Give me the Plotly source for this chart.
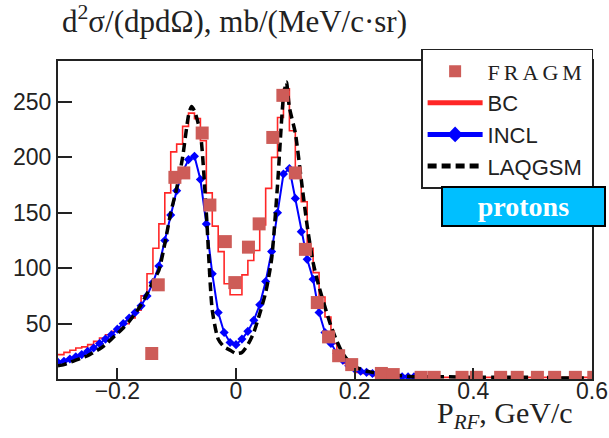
import plotly.graph_objects as go

# ---------------- data ----------------
fragm_x = [-0.142, -0.131, -0.103, -0.088, -0.057, -0.044, -0.018, -0.002, 0.021, 0.039,
           0.062, 0.079, 0.100, 0.117, 0.137, 0.156, 0.173, 0.195, 0.245, 0.265,
           0.312, 0.334, 0.381, 0.405, 0.446, 0.474, 0.508, 0.537, 0.572, 0.603]
fragm_y = [23, 85, 182, 186, 222, 157, 124, 87, 119, 140,
           218, 256, 186, 117, 69, 38, 21, 13, 5, 4,
           1.5, 1.5, 1.5, 1.5, 1.5, 1.5, 1.5, 1.5, 1.5, 1.5]

bc_edges = [round(-0.30 + 0.01 * i, 2) for i in range(91)]
bc_vals = [22, 24, 26, 28, 29, 31, 34, 37, 40, 43,
           46, 50, 55, 62, 75, 95, 118, 140, 168, 205,
           212, 228, 240, 235, 215, 168, 138, 115, 86, 76,
           76, 94, 107, 116, 139, 172, 200, 236, 262, 224,
           182, 160, 118, 96, 74, 56, 32, 22, 14, 9,
           6, 5, 4, 3, 3, 2, 2, 2, 2, 2,
           2, 1.5, 1.5, 1.5, 1.5, 1.5, 1.5, 1.5, 1.5, 1.5,
           1.5, 1.5, 1.5, 1.5, 1.5, 1.5, 1.5, 1.5, 1.5, 1.5,
           1.5, 1.5, 1.5, 1.5, 1.5, 1.5, 1.5, 1.5, 1.5, 1.5]

incl_x = [round(-0.30 + 0.01 * i, 2) for i in range(61)]
incl_y = [15, 16, 18, 20, 22, 25, 28, 32, 36, 40,
          45, 50, 55, 60, 66, 75, 87, 102, 125, 148,
          170, 187, 198, 201, 180, 140, 95, 60, 42, 33,
          31, 36, 43, 53, 67, 88, 115, 150, 185, 190,
          163, 133, 108, 90, 60, 42, 32, 23, 17, 12,
          9, 7, 6, 5, 4, 4, 3, 3, 2, 2, 2]

laq_x = [-0.30, -0.29, -0.28, -0.27, -0.26, -0.25, -0.24, -0.23, -0.22, -0.21,
         -0.20, -0.19, -0.18, -0.17, -0.16, -0.15, -0.14, -0.13, -0.12, -0.11,
         -0.10, -0.09, -0.08, -0.075, -0.07, -0.06, -0.05, -0.04, -0.03, -0.02,
         -0.01, 0.00, 0.01, 0.02, 0.03, 0.04, 0.05, 0.06, 0.07, 0.08,
         0.085, 0.09, 0.10, 0.11, 0.12, 0.13, 0.14, 0.15, 0.16, 0.17,
         0.18, 0.19, 0.20, 0.21, 0.22, 0.23, 0.24, 0.26, 0.28, 0.30,
         0.35, 0.40, 0.45, 0.50, 0.55, 0.60]
laq_y = [12, 13, 15, 17, 19, 21, 24, 27, 31, 36,
         41, 46, 52, 59, 67, 77, 88, 98, 122, 150,
         172, 200, 238, 246, 242, 222, 150, 62, 36, 29,
         26, 23, 24, 31, 42, 59, 78, 108, 175, 255,
         268, 245, 222, 180, 138, 105, 83, 65, 48, 34,
         23, 16, 11, 9, 7, 6, 5, 4, 3, 2,
         2, 1.5, 1.5, 1.5, 1, 1]

xtick_vals = [-0.2, 0, 0.2, 0.4, 0.6]
xtick_text = ["\u22120.2", "0", "0.2", "0.4", "0.6"]
ytick_vals = [50, 100, 150, 200, 250]

# ---------------- figure ----------------
fig = go.Figure()

fig.add_trace(go.Scatter(
    x=bc_edges, y=bc_vals + [bc_vals[-1]], mode="lines", name="BC",
    line=dict(color="rgba(255,0,0,0.85)", width=1.6, shape="hv"),
    legendgroup="b", legendrank=2))

fig.add_trace(go.Scatter(
    x=incl_x, y=incl_y, mode="lines+markers", name="INCL",
    line=dict(color="#0000ff", width=2),
    marker=dict(symbol="diamond", size=7, color="#0000ff"),
    legendgroup="c", legendrank=3))

fig.add_trace(go.Scatter(
    x=laq_x, y=laq_y, mode="lines", name="LAQGSM",
    line=dict(color="black", width=3.5, dash="9px,5px", shape="spline", smoothing=0.6),
    legendgroup="d", legendrank=4))

fig.add_trace(go.Scatter(
    x=fragm_x, y=fragm_y, mode="markers",
    name="<span style='font-family:\"Liberation Serif\";letter-spacing:4px'>FRAGM</span>",
    marker=dict(symbol="square", size=13, color="rgb(205,92,88)"),
    legendgroup="a", legendrank=1))

axis_common = dict(showline=True, linecolor="#222", linewidth=2, mirror=True,
                   ticks="inside", tickcolor="#222", tickwidth=2,
                   showgrid=False, zeroline=False, automargin=False,
                   tickfont=dict(family="Liberation Sans", size=23, color="#222"))

fig.update_layout(
    width=609, height=438,
    margin=dict(l=58, r=17, t=61, b=59, autoexpand=False),
    paper_bgcolor="white", plot_bgcolor="white",
    xaxis=dict(range=[-0.3, 0.6], tickvals=xtick_vals, ticktext=xtick_text,
               ticklen=11, ticklabelstandoff=-10, **axis_common),
    yaxis=dict(range=[0, 287], tickvals=ytick_vals, ticklen=14, **axis_common),
    legend=dict(x=0.68, y=1.038, xanchor="left", yanchor="top",
                bgcolor="white", bordercolor="#222", borderwidth=1.5,
                font=dict(family="Liberation Sans", size=22, color="#222"),
                itemsizing="constant", itemwidth=55, tracegroupgap=0,
                traceorder="grouped"),
    showlegend=True,
)

fig.add_annotation(
    xref="paper", yref="paper", x=0.004, y=1.132, xanchor="left", yanchor="middle",
    text="d<sup>2</sup>\u03c3/(dpd\u03a9), mb/(MeV/c\u00b7sr)", showarrow=False,
    font=dict(family="Liberation Serif", size=31, color="#222"))

fig.add_annotation(
    xref="paper", yref="paper", x=0.968, y=-0.112, xanchor="right", yanchor="middle",
    text="P<sub><i>RF</i></sub>, GeV/c", showarrow=False,
    font=dict(family="Liberation Serif", size=30, color="#222"))

fig.add_annotation(
    xref="paper", yref="paper", x=0.872, y=0.5425, xanchor="center", yanchor="middle",
    text="<b>protons</b>", showarrow=False,
    width=161, height=37, borderpad=0,
    bgcolor="#00bfff", bordercolor="black", borderwidth=2,
    font=dict(family="Liberation Serif", size=28, color="white"))

fig.write_html("out.html")
